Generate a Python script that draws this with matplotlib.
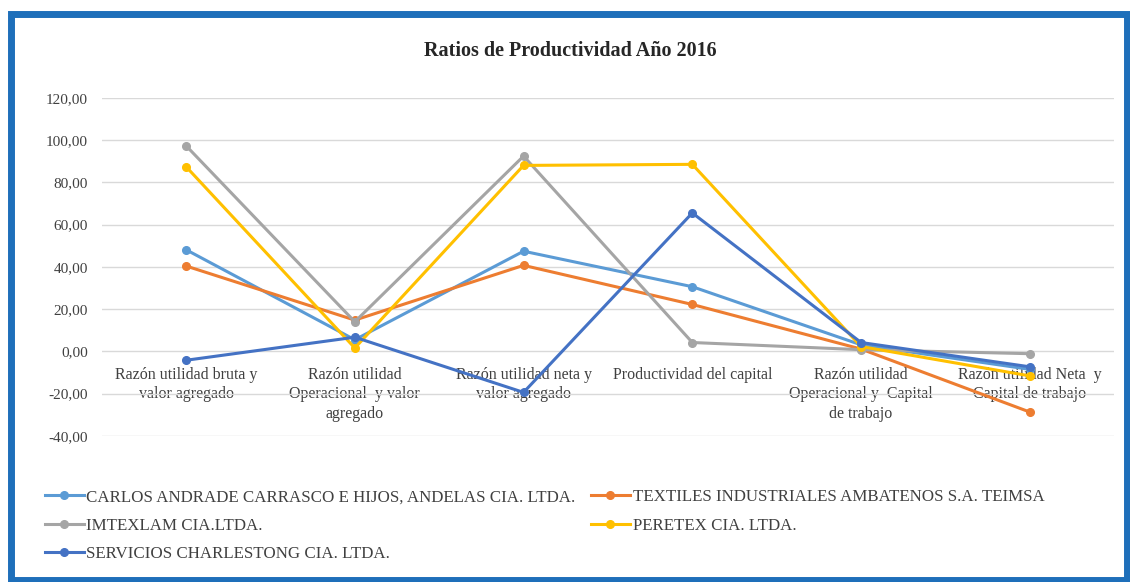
import matplotlib.pyplot as plt
from matplotlib.patches import Rectangle
from matplotlib.ticker import FuncFormatter, MultipleLocator

categorias = ["Razón utilidad bruta y\nvalor agregado",
              "Razón utilidad\nOperacional  y valor\nagregado",
              "Razón utilidad neta y\nvalor agregado",
              "Productividad del capital",
              "Razón utilidad\nOperacional y  Capital\nde trabajo",
              "Razón utilidad Neta  y\nCapital de trabajo"]

andelas = [48.1, 5.5, 47.4, 30.6, 3.1, -8.5]
teimsa = [40.4, 14.8, 40.7, 22.2, 1.1, -28.7]
imtexlam = [97.3, 14.0, 92.4, 4.2, 0.8, -1.1]
peretex = [87.4, 1.6, 88.0, 88.5, 2.3, -11.6]
charlestong = [-4.2, 6.7, -19.4, 65.5, 4.2, -7.3]

nombres = ["CARLOS ANDRADE CARRASCO E HIJOS, ANDELAS CIA. LTDA.",
           "TEXTILES INDUSTRIALES AMBATENOS S.A. TEIMSA",
           "IMTEXLAM CIA.LTDA.",
           "PERETEX CIA. LTDA.",
           "SERVICIOS CHARLESTONG CIA. LTDA."]
colores = ["#5B9BD5", "#ED7D31", "#A5A5A5", "#FFC000", "#4472C4"]
series = [andelas, teimsa, imtexlam, peretex, charlestong]

plt.rcParams['font.family'] = ['Liberation Serif', 'DejaVu Serif']

fig = plt.figure(figsize=(11.3, 5.82), dpi=100)
ax = fig.add_axes([0.090, 0.251, 0.896, 0.581])

x = list(range(len(categorias)))
lineas = []
for vals, nom, col in zip(series, nombres, colores):
    l, = ax.plot(x, vals, color=col, lw=2.2, marker='o', markersize=5.5, label=nom)
    lineas.append(l)

ax.set_xlim(-0.5, 5.5)
ax.set_ylim(-40, 120)
ax.yaxis.set_major_locator(MultipleLocator(20))
ax.yaxis.set_major_formatter(FuncFormatter(lambda v, p: f"{v:.2f}".replace(".", ",")))
ax.grid(axis='y', color='#D9D9D9', lw=1)
ax.set_axisbelow(True)
for s in ['top', 'right', 'left']:
    ax.spines[s].set_visible(False)
# etiquetas de categoría pegadas a la línea del cero, como en Excel
ax.spines['bottom'].set_position(('data', 0))
ax.spines['bottom'].set_visible(False)
ax.set_xticks(x)
ax.set_xticklabels(categorias, fontsize=11.5, color='#404040', linespacing=1.3)
ax.tick_params(axis='x', length=0, pad=11)
ax.tick_params(axis='y', length=0, labelsize=11, labelcolor='#404040', pad=10)

fig.text(0.505, 0.912, "Ratios de Productividad Año 2016", ha='center', va='center',
         fontsize=14.5, fontweight='bold', color='#262626')

orden = [0, 2, 4, 1, 3]
fig.legend([lineas[i] for i in orden], [nombres[i] for i in orden], ncol=2,
           loc='upper left', bbox_to_anchor=(0.032, 0.174), frameon=False,
           borderpad=0, fontsize=12.2, handlelength=2.3, handletextpad=0.17,
           labelspacing=0.74, columnspacing=0.9, labelcolor='#404040')

fig.patches.append(Rectangle((11 / 1130, 2.5 / 582), 1115.5 / 1130, 566 / 582,
                             transform=fig.transFigure, fill=False,
                             edgecolor='#1E6FBA', lw=5))

plt.savefig("out.png", dpi=100)
